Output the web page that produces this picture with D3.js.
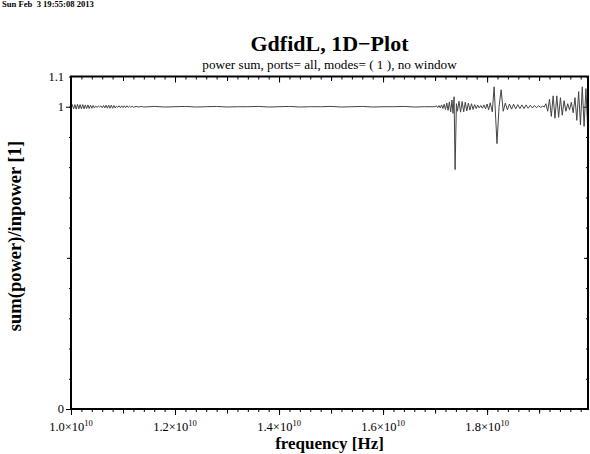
<!DOCTYPE html>
<html>
<head>
<meta charset="utf-8">
<script src="https://cdn.jsdelivr.net/npm/d3@7"></script>
<style>
  body { margin: 0; background: #fff; }
  text { font-family: "Liberation Serif", "DejaVu Serif", serif; }
</style>
</head>
<body>
<div id="chart"></div>
<script>
// frequency in GHz (axis is labelled in units of 10^10 Hz)
var freqGHz = [
  10.000,10.025,10.050,10.075,10.100,10.125,10.150,10.175,10.200,10.225,10.250,10.275,10.300,10.325,10.350,10.375,10.400,10.425,10.450,10.475,
  10.500,10.525,10.550,10.575,10.600,10.625,10.650,10.675,10.700,10.725,10.750,10.775,10.800,10.825,10.850,10.875,10.900,10.925,10.950,10.975,
  11.000,11.025,11.050,11.075,11.100,11.125,11.150,11.175,11.200,11.250,11.300,11.350,11.400,
  11.6,11.8,12.0,12.2,12.4,12.6,12.8,13.0,13.2,13.4,13.6,13.8,14.0,14.2,14.4,14.6,14.8,15.0,15.2,15.4,15.6,15.8,16.0,16.2,16.4,16.6,16.8,
  17.000,17.025,17.050,17.075,17.100,17.125,17.150,17.175,17.200,17.225,17.250,17.275,17.300,17.325,17.345,17.365,17.385,17.410,
  17.43,17.46,17.49,17.52,17.55,17.58,17.61,17.64,17.67,17.70,17.73,17.76,17.79,17.82,17.85,17.88,17.91,17.94,17.97,18.00,18.03,18.06,
  18.10,18.135,18.19,18.23,18.27,18.31,
  18.35,18.39,18.43,18.47,18.51,18.55,18.59,18.63,18.67,18.71,18.75,18.79,18.83,18.87,18.91,18.95,18.99,19.03,19.07,19.10,
  19.13,19.165,19.20,19.235,19.27,19.305,19.34,19.375,19.41,19.445,19.48,19.515,19.55,19.585,19.62,19.655,19.69,19.725,19.76,19.795,19.83,19.865,19.90,19.93,19.96
];
var sumPower = [
  1.000,1.007,0.993,1.007,0.992,1.008,0.993,1.007,0.993,1.007,0.993,1.006,0.994,1.006,0.994,1.005,0.995,1.004,0.996,1.002,
  0.998,1.002,0.999,1.003,0.997,1.004,0.996,1.005,0.995,1.005,0.995,1.005,0.995,1.004,0.996,1.002,0.998,1.003,0.997,1.003,
  0.997,1.003,0.997,1.003,0.998,1.002,0.998,1.002,0.998,1.001,0.999,1.001,0.999,
  1.001,0.999,1.000,1.001,0.999,1.000,1.001,0.999,1.000,1.000,1.001,0.999,1.000,1.001,0.999,1.000,1.000,1.001,0.999,1.000,1.001,0.999,1.000,1.000,1.001,0.999,1.000,
  1.000,1.003,0.997,1.004,0.996,1.006,0.994,1.008,0.991,1.012,0.988,1.016,0.983,1.022,0.978,1.033,0.792,1.010,
  0.985,1.018,0.982,1.017,0.983,1.015,0.986,1.012,0.989,1.010,0.991,1.007,0.994,1.005,0.996,1.004,0.995,1.006,0.993,1.009,0.990,1.013,
  0.983,1.066,0.878,1.000,1.056,0.985,
  1.012,0.990,1.009,0.992,1.008,0.993,1.007,0.994,1.006,0.994,1.006,0.995,1.005,0.996,1.004,0.997,1.003,0.998,1.002,0.999,
  1.010,0.985,1.025,0.968,1.036,0.962,1.036,0.965,1.030,0.972,1.020,0.985,1.010,0.990,1.015,0.980,1.030,0.955,1.050,0.940,1.066,0.935,1.060,0.945,1.040
];

var xTickValues = [10, 12, 14, 16, 18];
var xTickLabels = ["1.0", "1.2", "1.4", "1.6", "1.8"];
var yTickValues = [0, 1, 1.1];
var yTickLabels = ["0", "1", "1.1"];

var W = 590, H = 454;
var margin = {top: 76.5, right: 2, bottom: 45, left: 71};
var width = W - margin.left - margin.right,
    height = H - margin.top - margin.bottom;

var svg = d3.select("#chart").append("svg")
    .attr("width", W)
    .attr("height", H);

// date stamp & titles
svg.append("text").attr("x", 2).attr("y", 7)
  .attr("xml:space", "preserve")
  .style("font-size", "8.6px").style("font-weight", "bold")
  .text("Sun Feb  3 19:55:08 2013");
svg.append("text").attr("x", margin.left + width / 2).attr("y", 51)
  .attr("text-anchor", "middle")
  .style("font-size", "22px").style("font-weight", "bold")
  .text("GdfidL, 1D\u2212Plot");
svg.append("text").attr("x", margin.left + width / 2).attr("y", 69)
  .attr("text-anchor", "middle")
  .style("font-size", "13.2px")
  .text("power sum, ports= all, modes= ( 1 ), no window");

var g = svg.append("g")
  .attr("transform", "translate(" + margin.left + "," + margin.top + ")");

var x = d3.scaleLinear().domain([10, 19.94]).range([0, width]);
var y = d3.scaleLinear().domain([0, 1.1]).range([height, 0]);

var xMinor = d3.range(10, 19.95, 0.2),
    xMid = [11, 13, 15, 17, 19],
    yMinor = d3.range(0, 1.101, 0.1),
    yMid = [0.5];

function styleAxis(sel) {
  sel.select(".domain").remove();
  sel.selectAll("line").attr("stroke", "#000").attr("stroke-width", 1);
  sel.selectAll("text").remove();
}

// bottom: ticks outward
g.append("g").attr("transform", "translate(0," + height + ")")
  .call(d3.axisBottom(x).tickValues(xMinor).tickSize(3)).call(styleAxis);
g.append("g").attr("transform", "translate(0," + height + ")")
  .call(d3.axisBottom(x).tickValues(xMid).tickSize(4.5)).call(styleAxis);
g.append("g").attr("transform", "translate(0," + height + ")")
  .call(d3.axisBottom(x).tickValues(xTickValues).tickSize(6)).call(styleAxis);
// top: ticks inward
g.append("g").call(d3.axisTop(x).tickValues(xMinor).tickSize(-3)).call(styleAxis);
g.append("g").call(d3.axisTop(x).tickValues(xMid).tickSize(-4.5)).call(styleAxis);
g.append("g").call(d3.axisTop(x).tickValues(xTickValues).tickSize(-6)).call(styleAxis);
// left: ticks outward
g.append("g").call(d3.axisLeft(y).tickValues(yMinor).tickSize(2)).call(styleAxis);
g.append("g").call(d3.axisLeft(y).tickValues(yMid).tickSize(4)).call(styleAxis);
g.append("g").call(d3.axisLeft(y).tickValues([0, 1]).tickSize(5)).call(styleAxis);
// right: ticks inward
g.append("g").attr("transform", "translate(" + width + ",0)")
  .call(d3.axisRight(y).tickValues(yMinor).tickSize(-2)).call(styleAxis);
g.append("g").attr("transform", "translate(" + width + ",0)")
  .call(d3.axisRight(y).tickValues(yMid).tickSize(-4)).call(styleAxis);
g.append("g").attr("transform", "translate(" + width + ",0)")
  .call(d3.axisRight(y).tickValues([0, 1]).tickSize(-5)).call(styleAxis);

// tick labels
var xl = g.selectAll(".xlab").data(xTickValues).enter().append("text")
  .attr("class", "xlab")
  .attr("x", function(d) { return x(d); })
  .attr("y", height + 22)
  .attr("text-anchor", "middle")
  .style("font-size", "12.5px");
xl.append("tspan").text(function(d, i) { return xTickLabels[i] + "\u00d710"; });
xl.append("tspan").attr("dy", -5).style("font-size", "8.5px").text("10");

g.selectAll(".ylab").data(yTickValues).enter().append("text")
  .attr("x", -7)
  .attr("y", function(d) { return y(d) + 4; })
  .attr("text-anchor", "end")
  .style("font-size", "12.5px")
  .text(function(d, i) { return yTickLabels[i]; });

// axis titles
svg.append("text").attr("x", margin.left + width / 2).attr("y", 449)
  .attr("text-anchor", "middle")
  .style("font-size", "17px").style("font-weight", "bold")
  .text("frequency [Hz]");
svg.append("text")
  .attr("transform", "translate(21,236) rotate(-90)")
  .attr("text-anchor", "middle")
  .style("font-size", "18.5px").style("font-weight", "bold")
  .text("sum(power)/inpower [1]");

// curve
g.append("clipPath").attr("id", "clip").append("rect")
  .attr("width", width).attr("height", height);
var line = d3.line()
  .x(function(d, i) { return x(freqGHz[i]); })
  .y(function(d) { return y(d); });
g.append("path")
  .datum(sumPower)
  .attr("clip-path", "url(#clip)")
  .attr("fill", "none")
  .attr("stroke", "#444")
  .attr("stroke-width", 1)
  .attr("d", line);

// frame
g.append("rect").attr("width", width).attr("height", height)
  .attr("fill", "none").attr("stroke", "#000").attr("stroke-width", 2);
</script>
</body>
</html>
